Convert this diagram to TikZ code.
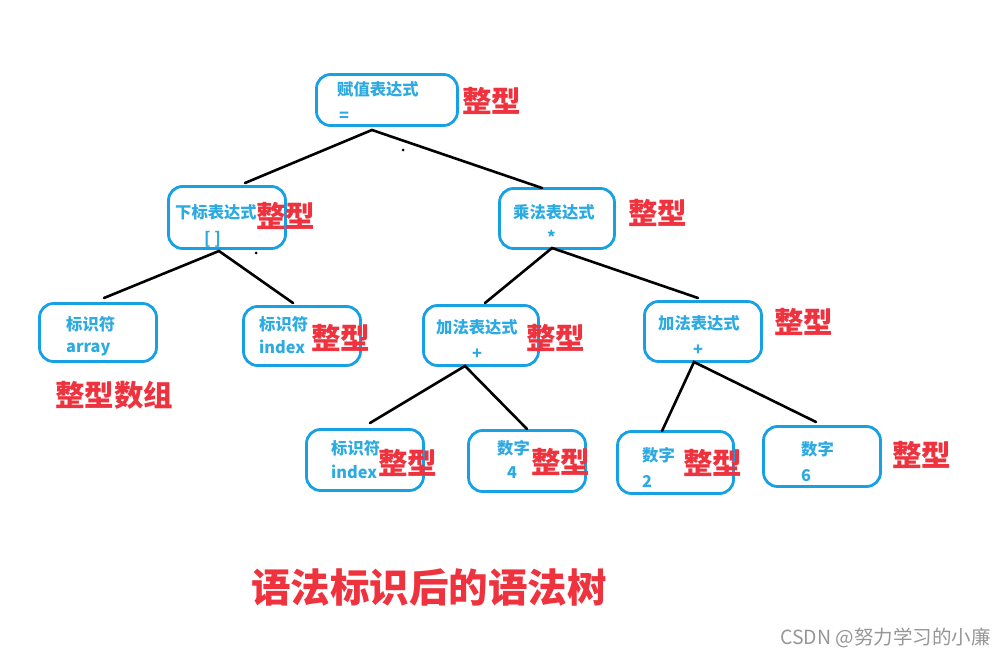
\documentclass[tikz,border=0pt]{standalone}
\usepackage{fontspec}
\setmainfont{Noto Sans CJK SC}
\definecolor{boxblue}{RGB}{24,160,228}
\definecolor{txtblue}{RGB}{45,170,225}
\definecolor{tred}{RGB}{238,50,62}
\definecolor{wmgray}{RGB}{150,150,150}
\tikzset{
  box/.style={draw=boxblue, line width=2.8pt, rounded corners=14pt, inner sep=0pt},
  lbl/.style={anchor=west, inner sep=0pt, text=txtblue, font=\fontsize{16.3pt}{17pt}\selectfont\bfseries},
  typ/.style={anchor=west, inner sep=0pt, text=tred, font=\fontsize{29.5pt}{31pt}\selectfont\bfseries},
  edge/.style={draw=black, line width=2.6pt, line cap=round},
  speck/.style={fill=black, circle, inner sep=0pt, minimum size=3pt}
}
\begin{document}
\begin{tikzpicture}[x=1pt,y=-1pt]
\useasboundingbox (0,0) rectangle (1006,658);
% boxes
\node[box, minimum width=141pt, minimum height=51pt] (root) at (387,100) {};
\node[box, minimum width=117pt, minimum height=62pt] (sub) at (227,217.5) {};
\node[box, minimum width=115pt, minimum height=60pt] (mul) at (557,218.5) {};
\node[box, minimum width=117pt, minimum height=58pt] (arr) at (98,332.5) {};
\node[box, minimum width=117pt, minimum height=59pt] (idxa) at (302,336) {};
\node[box, minimum width=115pt, minimum height=60pt] (adda) at (481,335.5) {};
\node[box, minimum width=117pt, minimum height=60pt] (addb) at (703,331.5) {};
\node[box, minimum width=117pt, minimum height=61pt] (idxb) at (365,460) {};
\node[box, minimum width=117pt, minimum height=61pt] (numa) at (527,461) {};
\node[box, minimum width=116pt, minimum height=62pt] (numb) at (675.5,462.5) {};
\node[box, minimum width=117pt, minimum height=60pt] (numc) at (822,456.5) {};
% box texts
\node[lbl] (t-root1) at (337,89.5) {赋值表达式};
\node[lbl] (t-root2) at (339,117) {=};
\node[lbl] (t-sub1) at (175,212) {下标表达式};
\node[lbl] (t-sub2) at (204,239) {[ ]};
\node[lbl] (t-mul1) at (513,212) {乘法表达式};
\node[lbl] (t-mul2) at (547,237) {*};
\node[lbl] (t-arr1) at (66,324) {标识符};
\node[lbl] (t-arr2) at (66,350) {array};
\node[lbl] (t-idxa1) at (259,324) {标识符};
\node[lbl] (t-idxa2) at (259,347) {index};
\node[lbl] (t-adda1) at (436,327) {加法表达式};
\node[lbl] (t-adda2) at (472,354) {+};
\node[lbl] (t-addb1) at (658,323) {加法表达式};
\node[lbl] (t-addb2) at (693,350) {+};
\node[lbl] (t-idxb1) at (331,448) {标识符};
\node[lbl] (t-idxb2) at (331,472) {index};
\node[lbl] (t-numa1) at (497,448) {数字};
\node[lbl] (t-numa2) at (507,473) {4};
\node[lbl] (t-numb1) at (642,455) {数字};
\node[lbl] (t-numb2) at (642,481) {2};
\node[lbl] (t-numc1) at (801,449) {数字};
\node[lbl] (t-numc2) at (801,476) {6};
% type annotations
\node[typ] (y-root) at (462,101) {整型};
\node[typ] (y-sub) at (256,216) {整型};
\node[typ] (y-mul) at (628,213) {整型};
\node[typ] (y-arr) at (55,395) {整型数组};
\node[typ] (y-idxa) at (311,338) {整型};
\node[typ] (y-adda) at (526,338) {整型};
\node[typ] (y-addb) at (774,322) {整型};
\node[typ] (y-idxb) at (378,463) {整型};
\node[typ] (y-numa) at (531,462) {整型};
\node[typ] (y-numb) at (683,463) {整型};
\node[typ] (y-numc) at (892,455) {整型};
% connector end points
\coordinate (root-o) at (372,130);
\coordinate (sub-i) at (245,183);
\coordinate (mul-i) at (542,188);
\coordinate (sub-o) at (219,251);
\coordinate (arr-i) at (104,298);
\coordinate (idxa-i) at (293,303);
\coordinate (mul-o) at (552,248);
\coordinate (adda-i) at (485,303);
\coordinate (addb-i) at (698,298);
\coordinate (adda-o) at (465,366);
\coordinate (idxb-i) at (370,423);
\coordinate (numa-i) at (527,429);
\coordinate (addb-o) at (694,362);
\coordinate (numb-i) at (662,431);
\coordinate (numc-i) at (816,422);
% connectors
\draw[edge] (sub-i) -- (root-o) -- (mul-i);
\draw[edge] (arr-i) -- (sub-o) -- (idxa-i);
\draw[edge] (adda-i) -- (mul-o) -- (addb-i);
\draw[edge] (idxb-i) -- (adda-o) -- (numa-i);
\draw[edge] (numb-i) -- (addb-o) -- (numc-i);
% specks
\node[speck] (s1) at (403,150) {};
\node[speck] (s2) at (256,253) {};
% title and watermark
\node[anchor=west, inner sep=0pt, text=tred, font=\fontsize{39.5pt}{41pt}\selectfont\bfseries] (title) at (251,588) {语法标识后的语法树};
\node[anchor=west, inner sep=0pt, text=wmgray, font=\fontsize{19.5pt}{20pt}\selectfont] (wm) at (780,638) {CSDN @努力学习的小廉};
\end{tikzpicture}
\end{document}
